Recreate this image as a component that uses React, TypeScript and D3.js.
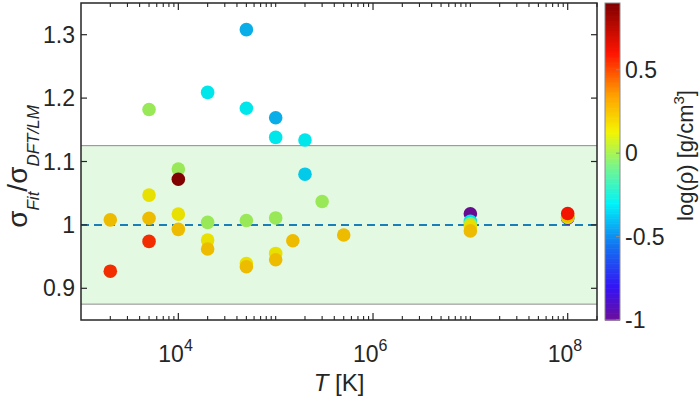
import React from "react";
import * as d3 from "d3";

// ---- data ----
const temps = [
  2000, 2000,
  5000, 5000, 5000, 5000,
  1e4, 1e4, 1e4, 1e4,
  2e4, 2e4, 2e4, 2e4,
  5e4, 5e4, 5e4, 5e4, 5e4,
  1e5, 1e5, 1e5, 1e5, 1e5,
  1.5e5,
  2e5, 2e5,
  3e5,
  5e5,
  1e7, 1e7, 1e7, 1e7, 1e7,
  1e8, 1e8, 1e8, 1e8, 1e8, 1e8,
];
const ratios = [
  1.008, 0.927,
  1.182, 1.047, 1.0105, 0.974,
  1.088, 1.017, 0.993, 1.072,
  1.209, 1.004, 0.976, 0.962,
  1.308, 1.184, 1.007, 0.939, 0.934,
  1.169, 1.138, 1.011, 0.955, 0.945,
  0.975,
  1.08, 1.134,
  1.037,
  0.984,
  1.0174, 1.0055, 1.0016, 0.998, 0.9905,
  1.011, 1.012, 1.012, 1.013, 1.014, 1.018,
];
const logRho = [
  0.25, 0.55,
  -0.01, 0.15, 0.25, 0.55,
  -0.01, 0.15, 0.25, 0.88,
  -0.3, -0.01, 0.15, 0.25,
  -0.42, -0.3, -0.01, 0.15, 0.25,
  -0.42, -0.3, -0.01, 0.15, 0.25,
  0.25,
  -0.36, -0.3,
  -0.01,
  0.25,
  -1.0, -0.3, -0.01, 0.15, 0.25,
  -1.0, -0.3, -0.01, 0.15, 0.25, 0.6,
];

const yTicks = [0.9, 1, 1.1, 1.2, 1.3];
const xLabelExps = [4, 6, 8];
const cbTicks = [-1, -0.5, 0, 0.5];
const cmapStops = [-1, -0.8, -0.55, -0.3, -0.08, 0.13, 0.35, 0.6, 0.9];
const cmapColors = ["#6e0d9a", "#3414f5", "#1274f0", "#00f4f8", "#78f58c", "#f4f400", "#ffa000", "#ff1400", "#800000"];

const W = 700, H = 398;
const L = 81, R = 597, T = 3, B = 320;
const CBX0 = 605, CBX1 = 620;
const font = "Liberation Sans, Arial, Helvetica, sans-serif";
const txt = "#262626";

export default function App() {
  const x = d3.scaleLog().domain([1000, 2e8]).range([L, R]);
  const y = d3.scaleLinear().domain([0.85, 1.35]).range([B, T]);
  const cmap = d3.scaleLinear<string>().domain(cmapStops).range(cmapColors).interpolate(d3.interpolateRgb).clamp(true);
  const cb = d3.scaleLinear().domain([-1, 0.9]).range([B, T]);
  const pointColor = (v: number) => (d3.color(cmap(v)) as d3.RGBColor).darker(0.15).formatHex();

  const minor: number[] = [];
  for (let e = 3; e <= 8; e++) {
    for (let m = 1; m <= 9; m++) {
      const v = m * Math.pow(10, e);
      if (v > 1000 && v <= 2e8 && !(m === 1 && e % 2 === 0)) minor.push(v);
    }
  }
  const major = xLabelExps.map((e) => Math.pow(10, e));

  const cbSteps = d3.range(0, 190).map((i) => -1 + (i / 190) * 1.9);

  return (
    <svg width={W} height={H} style={{ position: "absolute", left: 0, top: 0, background: "#fff" }} fontFamily={font}>
      <rect x={L} y={y(1.125)} width={R - L} height={y(0.875) - y(1.125)} fill="#e4f9e2" />
      <line x1={L} x2={R} y1={y(1.125)} y2={y(1.125)} stroke="#8c8c8c" strokeWidth={1} />
      <line x1={L} x2={R} y1={y(0.875)} y2={y(0.875)} stroke="#8c8c8c" strokeWidth={1} />
      <line x1={L} x2={R} y1={y(1)} y2={y(1)} stroke="#1a7fb8" strokeWidth={2} strokeDasharray="8,5" />
      {temps.map((t, i) => (
        <circle key={i} cx={x(t)} cy={y(ratios[i])} r={6.8} fill={pointColor(logRho[i])} />
      ))}
      <rect x={L} y={T} width={R - L} height={B - T} fill="none" stroke={txt} strokeWidth={1.5} />
      {yTicks.map((v) => (
        <g key={v}>
          <line x1={L} x2={L + 6} y1={y(v)} y2={y(v)} stroke={txt} strokeWidth={1.2} />
          <line x1={R} x2={R - 6} y1={y(v)} y2={y(v)} stroke={txt} strokeWidth={1.2} />
          <text x={75} y={y(v)} dy="0.35em" textAnchor="end" fontSize={23} fill={txt}>{String(v)}</text>
        </g>
      ))}
      {minor.map((v) => (
        <g key={"m" + v}>
          <line x1={x(v)} x2={x(v)} y1={B} y2={B - 4} stroke={txt} strokeWidth={1.1} />
          <line x1={x(v)} x2={x(v)} y1={T} y2={T + 4} stroke={txt} strokeWidth={1.1} />
        </g>
      ))}
      {major.map((v, i) => (
        <g key={"M" + v}>
          <line x1={x(v)} x2={x(v)} y1={B} y2={B - 7} stroke={txt} strokeWidth={1.2} />
          <line x1={x(v)} x2={x(v)} y1={T} y2={T + 7} stroke={txt} strokeWidth={1.2} />
          <text x={x(v) - 20} y={362} fontSize={23} fill={txt}>
            10<tspan fontSize={16} dy={-11}>{xLabelExps[i]}</tspan>
          </text>
        </g>
      ))}
      <text x={(L + R) / 2} y={391} textAnchor="middle" fontSize={24} fill={txt}>
        <tspan fontStyle="italic">T</tspan> [K]
      </text>
      <text transform={`translate(27,${(T + B) / 2 + 5}) rotate(-90)`} textAnchor="middle" fill={txt}>
        <tspan fontSize={28}>σ</tspan>
        <tspan fontSize={17} dy={12} fontStyle="italic">Fit</tspan>
        <tspan fontSize={28} dy={-12}>/</tspan>
        <tspan fontSize={28}>σ</tspan>
        <tspan fontSize={17} dy={12} fontStyle="italic">DFT/LM</tspan>
      </text>
      {cbSteps.map((v, i) => (
        <rect key={i} x={CBX0} y={cb(v + 0.01)} width={CBX1 - CBX0} height={cb(v) - cb(v + 0.01) + 0.6} fill={cmap(v + 0.005)} />
      ))}
      <rect x={CBX0} y={T} width={CBX1 - CBX0} height={B - T} fill="none" stroke="#8c8c8c" strokeWidth={1} />
      {cbTicks.map((v) => (
        <g key={"c" + v}>
          <line x1={CBX1} x2={CBX1 - 4} y1={cb(v)} y2={cb(v)} stroke="#8c8c8c" strokeWidth={1} />
          <text x={625} y={cb(v)} dy="0.35em" fontSize={23} fill={txt}>{String(v)}</text>
        </g>
      ))}
      <text transform={`translate(693,${(T + B) / 2 - 6}) rotate(-90)`} textAnchor="middle" fontSize={22} fill={txt}>
        log(ρ) [g/cm<tspan fontSize={15} dy={-9}>3</tspan><tspan dy={9}>]</tspan>
      </text>
    </svg>
  );
}
